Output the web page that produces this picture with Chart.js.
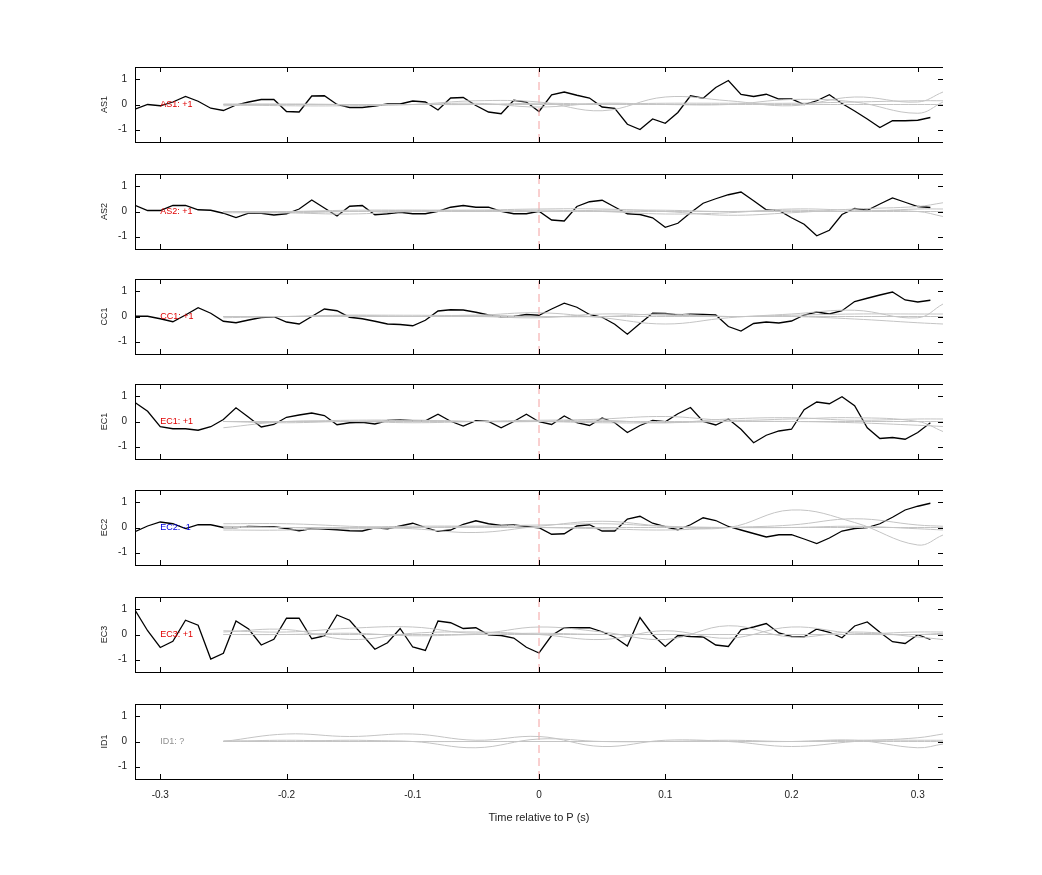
<!DOCTYPE html>
<html>
<head>
<meta charset="utf-8">
<script src="https://cdn.jsdelivr.net/npm/chart.js@4.4.0/dist/chart.umd.min.js"></script>
<style>
body { margin:0; background:#fff; width:1042px; height:875px; position:relative; font-family:"Liberation Sans", Arial, sans-serif; }
.p { position:absolute; left:80px; }
</style>
</head>
<body>
<script>
// time axis for the black traces (0.01 s steps) and the grey traces
var tBlack = [];
for (var i = 0; i < 64; i++) tBlack.push(Math.round((-0.32 + i * 0.01) * 100) / 100);
var tGrey = [-0.25, -0.2, -0.15, -0.1, -0.05, 0, 0.05, 0.1, 0.15, 0.2, 0.25, 0.3, 0.32];

var channels = ['AS1', 'AS2', 'CC1', 'EC1', 'EC2', 'EC3', 'ID1'];
var polarity = ['+1', '+1', '+1', '+1', '-1', '+1', '?'];
var labelColors = ['#e00000', '#e00000', '#e00000', '#e00000', '#0000e0', '#e00000', '#909090'];

var as1 = [-0.19,0,-0.05,0.1,0.32,0.13,-0.15,-0.24,-0.02,0.1,0.2,0.2,-0.28,-0.3,0.34,0.35,0,-0.12,-0.12,-0.06,0.02,0.02,0.14,0.1,-0.22,0.26,0.28,-0.04,-0.3,-0.37,0.17,0.1,-0.28,0.39,0.5,0.37,0.26,-0.1,-0.15,-0.79,-1.0,-0.58,-0.75,-0.32,0.35,0.25,0.68,0.96,0.4,0.32,0.41,0.22,0.22,0,0.15,0.39,0.04,-0.26,-0.58,-0.92,-0.65,-0.65,-0.63,-0.52];
var as2 = [0.25,0.04,0.04,0.24,0.24,0.07,0.05,-0.07,-0.24,-0.07,-0.07,-0.14,-0.09,0.1,0.46,0.14,-0.18,0.21,0.24,-0.13,-0.09,-0.03,-0.09,-0.09,0.01,0.17,0.24,0.17,0.17,0.01,-0.09,-0.09,0.01,-0.34,-0.38,0.2,0.39,0.45,0.18,-0.09,-0.12,-0.25,-0.63,-0.47,-0.05,0.33,0.51,0.67,0.78,0.43,0.07,0.04,-0.25,-0.51,-0.97,-0.75,-0.12,0.12,0.05,0.3,0.54,0.37,0.2,0.16];
var cc1 = [0.01,0.01,-0.09,-0.21,0.06,0.35,0.13,-0.19,-0.25,-0.14,-0.04,-0.01,-0.22,-0.3,0,0.3,0.23,-0.03,-0.09,-0.19,-0.3,-0.32,-0.37,-0.15,0.22,0.27,0.26,0.17,0.06,-0.01,0,0.08,0.05,0.3,0.53,0.37,0.08,-0.03,-0.31,-0.71,-0.28,0.13,0.12,0.06,0.09,0.08,0.06,-0.4,-0.58,-0.28,-0.22,-0.26,-0.18,0.06,0.18,0.1,0.23,0.6,0.73,0.86,0.98,0.66,0.58,0.65];
var ec1 = [0.76,0.41,-0.21,-0.29,-0.29,-0.35,-0.21,0.08,0.55,0.17,-0.22,-0.12,0.17,0.26,0.34,0.24,-0.13,-0.05,-0.03,-0.1,0.04,0.07,0.03,0.03,0.29,0.01,-0.18,0.03,0,-0.25,0,0.29,-0.01,-0.12,0.22,-0.05,-0.16,0.14,-0.05,-0.44,-0.16,0.04,-0.01,0.31,0.56,0,-0.14,0.1,-0.31,-0.85,-0.55,-0.38,-0.31,0.47,0.78,0.71,0.99,0.63,-0.25,-0.68,-0.64,-0.71,-0.44,-0.05];
var ec2 = [-0.17,0.06,0.22,0.15,-0.04,0.11,0.11,0,0,0.04,0.03,0.03,-0.04,-0.13,-0.04,-0.06,-0.09,-0.13,-0.14,-0.01,-0.05,0.06,0.17,0,-0.15,-0.1,0.13,0.27,0.15,0.08,0.1,0.04,-0.01,-0.27,-0.25,0.06,0.11,-0.14,-0.14,0.34,0.45,0.17,0.03,-0.09,0.11,0.39,0.28,0.04,-0.1,-0.24,-0.38,-0.29,-0.29,-0.46,-0.64,-0.42,-0.14,-0.04,0,0.15,0.41,0.7,0.85,0.97];
var ec3 = [0.98,0.15,-0.52,-0.27,0.57,0.37,-0.98,-0.75,0.54,0.22,-0.42,-0.19,0.65,0.65,-0.17,-0.06,0.78,0.57,-0.01,-0.59,-0.33,0.24,-0.5,-0.64,0.54,0.47,0.24,0.27,-0.01,-0.04,-0.14,-0.51,-0.74,-0.04,0.27,0.27,0.27,0.11,-0.11,-0.46,0.68,-0.01,-0.48,-0.04,-0.08,-0.1,-0.42,-0.48,0.19,0.3,0.44,0.06,-0.08,-0.09,0.22,0.09,-0.13,0.34,0.5,0.09,-0.29,-0.36,-0.01,-0.2];
var blackSeries = [as1, as2, cc1, ec1, ec2, ec3, null];

// grey traces, sampled at tGrey
var greySeries = [
  [[0,-0.05,-0.05,0,0.15,0.1,-0.25,0.3,0.15,-0.05,0.3,0.1,0.5],
   [-0.05,0,0,0,0.05,-0.1,0.05,0,0,0.2,0.1,-0.35,0.1],
   [0.02,0.02,0,0,0,0.05,0.02,0.05,0.05,0.05,0.1,0.15,0.15],
   [0,0,0,0,0,0,0,0,0,0,0,0,0]],
  [[0,-0.05,-0.1,0,0.05,0.1,0.1,0,-0.15,-0.05,0.1,0.2,0.35],
   [0,0,0.05,0.05,0,0.05,0,-0.1,-0.05,0.1,0.05,0,-0.2],
   [-0.05,-0.05,0,0.05,0.05,0,0.05,0.05,0,0.05,0,0.1,0.1],
   [0,0,0,0,0,0,0,0,0,0,0,0,0]],
  [[0,0,0.05,0.05,0.05,0.15,-0.05,-0.3,-0.05,0.1,0.25,-0.05,0.5],
   [0,0,0,0,0,-0.05,0.1,0.05,0,0,-0.1,-0.25,-0.3],
   [-0.05,0,0.05,0,0.05,0,0,0.1,0,0.05,0.1,0.1,0.1],
   [0,0,0,0,0,0,0,0,0,0,0,0,0]],
  [[-0.25,0,0,0.05,0,0,0.1,0.2,0.05,0.1,0.15,0,-0.4],
   [0,-0.05,0,-0.05,0,0.05,0.05,-0.05,0.1,0.15,0.05,0.1,0.1],
   [0,0,0.05,0.05,0,0,-0.05,-0.05,0,0,-0.05,-0.15,-0.2],
   [0,0,0,0,0,0,0,0,0,0,0,0,0]],
  [[0.15,0.15,0.05,-0.05,-0.2,0.05,0.25,0.05,0,0.7,0.2,-0.7,-0.3],
   [-0.1,-0.1,0,0.05,0.05,0,-0.05,-0.1,0,0.1,0.35,0.1,0.05],
   [0.05,0,-0.05,0,0.05,0.1,0.15,0.05,0,0,0.05,-0.05,-0.1],
   [0,0,0,0,0,0,0,0,0,0,0,0,0]],
  [[0.15,0.1,0.25,0.3,0.05,0.3,0.1,-0.2,0.35,-0.1,0.1,-0.1,-0.2],
   [0.1,0.2,-0.2,0.05,0.1,0,-0.2,0.15,-0.15,0.3,0.05,0.1,0.1],
   [0,0,0.05,-0.05,0,0.05,0,0,0,0,0,0,0.05],
   [0,0,0,0,0,0,0,0,0,0,0,0,0]],
  [[0,0.3,0.2,0.3,0.05,0.2,-0.2,0.05,0,-0.2,0,0.15,0.3],
   [0,0.05,0,0,-0.25,0.1,0,0,0.05,0,0.05,-0.25,-0.1],
   [0.03,0,0.05,0,0,0,0,0,0,0,0.05,0.05,0.05],
   [0,0,0,0,0,0,0,0,0,0,0,0,0]]
];

var panelTops = [67, 174, 279, 384, 490, 597, 704];
var panelH = 75;
var panelL = 135, panelR = 943;

function pts(xs, ys) {
  return xs.map(function (x, k) { return { x: x, y: ys[k] }; });
}

// frame, inward ticks and channel label
var framePlugin = {
  id: 'frame',
  afterDraw: function (chart) {
    var c = chart.ctx, a = chart.chartArea;
    var xs = chart.scales.x, ys = chart.scales.y;
    c.save();
    c.strokeStyle = '#000';
    c.lineWidth = 1;
    c.strokeRect(Math.round(a.left) + 0.5, Math.round(a.top) + 0.5, Math.round(a.right - a.left), Math.round(a.bottom - a.top));
    c.beginPath();
    [-0.3, -0.2, -0.1, 0, 0.1, 0.2, 0.3].forEach(function (v) {
      var px = Math.round(xs.getPixelForValue(v)) + 0.5;
      c.moveTo(px, a.bottom); c.lineTo(px, a.bottom - 5);
      c.moveTo(px, a.top); c.lineTo(px, a.top + 5);
    });
    [-1, 0, 1].forEach(function (v) {
      var py = Math.round(ys.getPixelForValue(v)) + 0.5;
      c.moveTo(a.left, py); c.lineTo(a.left + 5, py);
      c.moveTo(a.right, py); c.lineTo(a.right - 5, py);
    });
    c.stroke();
    var o = chart.options.plugins.frame;
    c.fillStyle = o.color;
    c.font = '9px "Liberation Sans", Arial, sans-serif';
    c.textBaseline = 'middle';
    c.fillText(o.text, xs.getPixelForValue(-0.3), ys.getPixelForValue(0));
    c.restore();
  }
};

function build(ch, p, cv, last) {
  var datasets = [];
  greySeries[p].forEach(function (g) {
    datasets.push({ data: pts(tGrey, g), borderColor: '#c4c4c4', borderWidth: 1, pointRadius: 0, tension: 0.4 });
  });
  datasets.push({ data: [{ x: 0, y: -1.5 }, { x: 0, y: 1.5 }], borderColor: '#f4a0a0', borderWidth: 1, borderDash: [8, 5], pointRadius: 0 });
  if (blackSeries[p]) {
    datasets.push({ data: pts(tBlack, blackSeries[p]), borderColor: '#000', borderWidth: 1.3, pointRadius: 0, tension: 0 });
  }
  return new Chart(cv, {
    type: 'line',
    data: { datasets: datasets },
    plugins: [framePlugin],
    options: {
      responsive: false,
      animation: false,
      devicePixelRatio: 1,
      layout: { padding: { top: 0, right: 0, bottom: 0, left: 0 } },
      plugins: {
        legend: { display: false },
        tooltip: { enabled: false },
        frame: { text: ch + ': ' + polarity[p], color: labelColors[p] }
      },
      scales: {
        x: {
          type: 'linear', min: -0.32, max: 0.32,
          grid: { display: false, drawTicks: false },
          border: { display: false },
          afterBuildTicks: function (s) { s.ticks = [-0.3, -0.2, -0.1, 0, 0.1, 0.2, 0.3].map(function (v) { return { value: v }; }); },
          ticks: { display: last, color: '#222', padding: 10, font: { size: 10, family: '"Liberation Sans", Arial' }, maxRotation: 0 },
          title: { display: last, text: 'Time relative to P (s)', color: '#222', font: { size: 11, family: '"Liberation Sans", Arial' }, padding: { top: 8 } },
          afterFit: function (s) { s.height = last ? 50 : 0; }
        },
        y: {
          min: -1.5, max: 1.5,
          grid: { display: false, drawTicks: false },
          border: { display: false },
          afterBuildTicks: function (s) { s.ticks = [-1, 0, 1].map(function (v) { return { value: v }; }); },
          ticks: { color: '#222', padding: 8, font: { size: 10, family: '"Liberation Sans", Arial' } },
          title: { display: true, text: ch, color: '#222', font: { size: 9, family: '"Liberation Sans", Arial' }, padding: 4 },
          afterFit: function (s) { s.width = 40; }
        }
      }
    }
  });
}

function makeCanvas(w, h) {
  var cv = document.createElement('canvas');
  cv.className = 'p';
  cv.width = w; cv.height = h;
  cv.style.width = w + 'px'; cv.style.height = h + 'px';
  document.body.appendChild(cv);
  return cv;
}

channels.forEach(function (ch, p) {
  var last = p === channels.length - 1;
  var w = 880, h = panelH + 30 + (last ? 50 : 0);
  // first pass: measure the plot area, then rebuild at the size that fits the panel box
  var cv = makeCanvas(w, h);
  var chart = build(ch, p, cv, last);
  var a = chart.chartArea;
  var nw = w + (panelR - panelL) - (a.right - a.left);
  var nh = h + panelH - (a.bottom - a.top);
  chart.destroy();
  cv.remove();
  cv = makeCanvas(nw, nh);
  chart = build(ch, p, cv, last);
  cv.style.left = (panelL - chart.chartArea.left) + 'px';
  cv.style.top = (panelTops[p] - chart.chartArea.top) + 'px';
});
</script>
</body>
</html>
